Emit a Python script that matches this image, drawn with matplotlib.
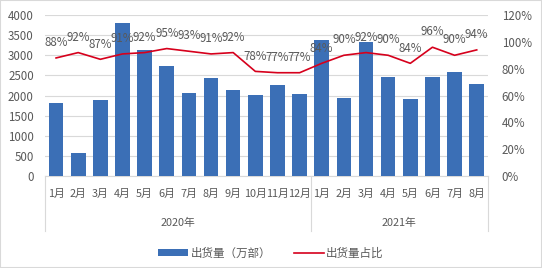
import numpy as np
import matplotlib.pyplot as plt
import matplotlib.transforms as mtransforms
from matplotlib.patches import Patch, Rectangle
from matplotlib.lines import Line2D

plt.rcParams['font.family'] = ['Noto Sans CJK SC', 'DejaVu Sans']

# datos
meses = ['1月', '2月', '3月', '4月', '5月', '6月', '7月', '8月', '9月', '10月', '11月', '12月',
         '1月', '2月', '3月', '4月', '5月', '6月', '7月', '8月']
anios = ['2020年', '2021年']
meses_por_anio = [12, 8]
envios = [1820, 570, 1885, 3800, 3120, 2730, 2060, 2440, 2150, 2020, 2260, 2040,
          3370, 1950, 3330, 2470, 1920, 2455, 2590, 2275]
porcentaje = [88, 92, 87, 91, 92, 95, 93, 91, 92, 78, 77, 77,
              84, 90, 92, 90, 84, 96, 90, 94]

azul = '#3B6FB6'
rojo = '#D6001C'
gris = '#595959'

fig = plt.figure(figsize=(5.42, 2.68), dpi=100)
ax = fig.add_axes([0.083, 0.343, 0.817, 0.601])
ax2 = ax.twinx()

x = np.arange(len(meses))
ax.bar(x, envios, width=0.66, color=azul, zorder=3)
ax.set_xlim(-0.5, len(meses) - 0.5)
ax.set_ylim(0, 4000)
ax.set_yticks(np.arange(0, 4001, 500))
ax.grid(axis='y', color='#D9D9D9', linewidth=0.8, zorder=0)
ax.set_xticks(x)
ax.set_xticklabels(meses, fontsize=7.8, color=gris)
ax.tick_params(axis='x', length=0, pad=9)
ax.tick_params(axis='y', length=0, labelsize=8.3, labelcolor=gris, pad=8)
for s in ['top', 'right', 'left']:
    ax.spines[s].set_visible(False)
ax.spines['bottom'].set_color('#D9D9D9')

ax2.plot(x, porcentaje, color=rojo, linewidth=1.2, zorder=4)
ax2.set_ylim(0, 120)
ax2.set_yticks(np.arange(0, 121, 20))
ax2.set_yticklabels([f'{v}%' for v in range(0, 121, 20)])
ax2.tick_params(axis='y', length=0, labelsize=8.3, labelcolor=gris, pad=10)
for s in ax2.spines.values():
    s.set_visible(False)
for xi, p in zip(x, porcentaje):
    ax2.annotate(f'{p}%', (xi, p), xytext=(0, 11), textcoords='offset points',
                 ha='center', va='center', fontsize=8.3, color=gris)

# separadores y etiquetas de año
trans = mtransforms.blended_transform_factory(ax.transData, ax.transAxes)
bordes = np.concatenate([[0], np.cumsum(meses_por_anio)]) - 0.5
for b in bordes:
    ax.plot([b, b], [0, -0.34], color='#D9D9D9', linewidth=0.8,
            transform=trans, clip_on=False)
for i, a in enumerate(anios):
    centro = (bordes[i] + bordes[i + 1]) / 2
    ax.text(centro, -0.29, a, transform=trans, ha='center', va='center',
            fontsize=7.8, color=gris)

handles = [Patch(facecolor=azul), Line2D([0], [0], color=rojo, linewidth=1.2)]
fig.legend(handles, ['出货量（万部）', '出货量占比'], loc='center', ncol=2,
           bbox_to_anchor=(0.5, 0.055), frameon=False, fontsize=8.3,
           handlelength=2.6, handleheight=0.6, columnspacing=2.0,
           labelcolor=gris, handletextpad=0.2)

fig.patches.append(Rectangle((0, 0), 1, 1, transform=fig.transFigure,
                             fill=False, edgecolor='#D9D9D9', linewidth=1.5))

fig.savefig('out.png', dpi=100)
